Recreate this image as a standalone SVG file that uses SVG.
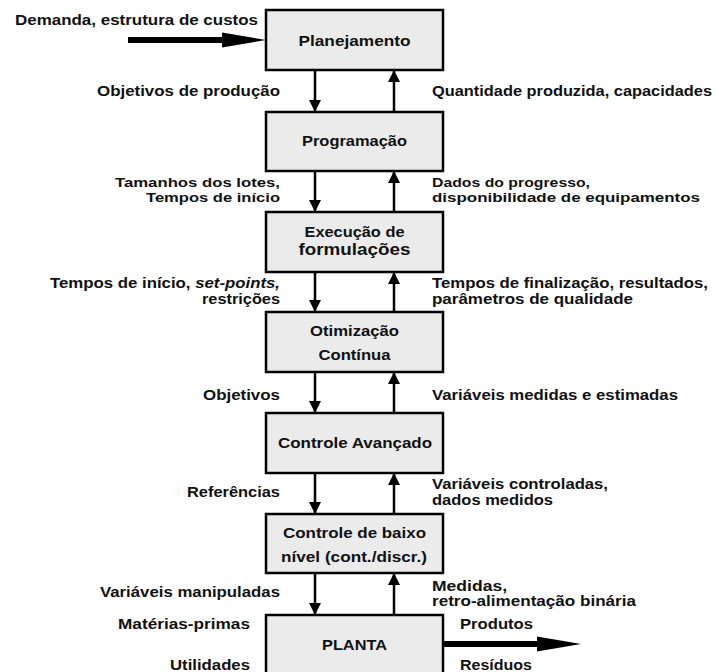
<svg xmlns="http://www.w3.org/2000/svg" width="723" height="672" viewBox="0 0 723 672">
  <style>
    text { font-family: "Liberation Sans", Arial, sans-serif; font-weight: bold; font-size: 15.5px; fill: #111; }
    .tight { font-size: 14px; }
    .tighter { font-size: 13.5px; }
    .box { fill: #ebebeb; stroke: #000; stroke-width: 2.5; }
    .title { text-anchor: middle; }
    .lft { text-anchor: end; }
    .rgt { text-anchor: start; }
    .link { stroke: #000; stroke-width: 2.5; fill: none; }
    .flow { stroke: #000; stroke-width: 6; fill: none; }
    .head { fill: #000; }
  </style>
  <defs>
    <marker id="tip" markerWidth="12" markerHeight="12" viewBox="0 0 12 12" refX="12" refY="6" orient="auto" markerUnits="userSpaceOnUse">
      <path d="M0,0 L12,6 L0,12 Z" class="head"/>
    </marker>
  </defs>

  <!-- hierarchy levels -->
  <g id="planejamento">
    <rect class="box" x="266" y="10" width="177" height="60"/>
    <text class="title" x="354.5" y="46" textLength="112" lengthAdjust="spacingAndGlyphs">Planejamento</text>
  </g>
  <g id="programacao">
    <rect class="box" x="266" y="112" width="177" height="59"/>
    <text class="title" x="354.5" y="146" textLength="105" lengthAdjust="spacingAndGlyphs">Programação</text>
  </g>
  <g id="execucao">
    <rect class="box" x="266" y="212" width="177" height="60"/>
    <text class="title" x="354.5" y="237" textLength="100" lengthAdjust="spacingAndGlyphs">Execução de</text>
    <text class="title" x="354.5" y="255" style="font-size:17px" textLength="112" lengthAdjust="spacingAndGlyphs">formulações</text>
  </g>
  <g id="otimizacao">
    <rect class="box" x="266" y="312" width="177" height="60"/>
    <text class="title" x="354.5" y="336" textLength="89" lengthAdjust="spacingAndGlyphs">Otimização</text>
    <text class="title" x="354.5" y="360" textLength="72" lengthAdjust="spacingAndGlyphs">Contínua</text>
  </g>
  <g id="controle-avancado">
    <rect class="box" x="266" y="413" width="177" height="60"/>
    <text class="title" x="355" y="448" textLength="154" lengthAdjust="spacingAndGlyphs">Controle Avançado</text>
  </g>
  <g id="controle-baixo-nivel">
    <rect class="box" x="266" y="514" width="177" height="59"/>
    <text class="title" x="354.5" y="538" textLength="143" lengthAdjust="spacingAndGlyphs">Controle de baixo</text>
    <text class="title" x="354" y="562" textLength="146" lengthAdjust="spacingAndGlyphs">nível (cont./discr.)</text>
  </g>
  <g id="planta">
    <rect class="box" x="266" y="615" width="177" height="70"/>
    <text class="title" x="354.5" y="650" textLength="65" lengthAdjust="spacingAndGlyphs">PLANTA</text>
  </g>

  <!-- connectors -->
  <g id="connectors">
    <!-- downward commands -->
    <line class="link" x1="315" y1="70" x2="315" y2="112" marker-end="url(#tip)"/>
    <line class="link" x1="315" y1="171" x2="315" y2="212" marker-end="url(#tip)"/>
    <line class="link" x1="315" y1="272" x2="315" y2="312" marker-end="url(#tip)"/>
    <line class="link" x1="315" y1="372" x2="315" y2="413" marker-end="url(#tip)"/>
    <line class="link" x1="315" y1="473" x2="315" y2="514" marker-end="url(#tip)"/>
    <line class="link" x1="315" y1="573" x2="315" y2="615" marker-end="url(#tip)"/>
    <!-- upward feedback -->
    <line class="link" x1="394" y1="112" x2="394" y2="70" marker-end="url(#tip)"/>
    <line class="link" x1="394" y1="212" x2="394" y2="171" marker-end="url(#tip)"/>
    <line class="link" x1="394" y1="312" x2="394" y2="272" marker-end="url(#tip)"/>
    <line class="link" x1="394" y1="413" x2="394" y2="372" marker-end="url(#tip)"/>
    <line class="link" x1="394" y1="514" x2="394" y2="473" marker-end="url(#tip)"/>
    <line class="link" x1="394" y1="615" x2="394" y2="573" marker-end="url(#tip)"/>
    <!-- heavy material / information flows -->
    <line class="flow" x1="128" y1="40" x2="224" y2="40"/>
    <path class="head" d="M222,32.5 L266,40 L222,47.5 Z"/>
    <line class="flow" x1="443" y1="644" x2="540" y2="644"/>
    <path class="head" d="M537,636.5 L581,644 L537,651.5 Z"/>
  </g>

  <!-- flow labels -->
  <g id="labels">
    <text x="15" y="25" textLength="243" lengthAdjust="spacingAndGlyphs">Demanda, estrutura de custos</text>
    <text class="lft" x="280" y="96" textLength="183" lengthAdjust="spacingAndGlyphs">Objetivos de produção</text>
    <text class="rgt" x="432" y="96" textLength="280" lengthAdjust="spacingAndGlyphs">Quantidade produzida, capacidades</text>

    <text class="lft tighter" x="280" y="187" textLength="165" lengthAdjust="spacingAndGlyphs">Tamanhos dos lotes,</text>
    <text class="lft tighter" x="280" y="202" textLength="134" lengthAdjust="spacingAndGlyphs">Tempos de início</text>
    <text class="rgt tighter" x="432" y="187" textLength="158" lengthAdjust="spacingAndGlyphs">Dados do progresso,</text>
    <text class="rgt tighter" x="432" y="202" textLength="268" lengthAdjust="spacingAndGlyphs">disponibilidade de equipamentos</text>

    <text class="lft" x="280" y="288" textLength="230" lengthAdjust="spacingAndGlyphs">Tempos de início, <tspan font-style="italic">set-points,</tspan></text>
    <text class="lft" x="280" y="304" textLength="78" lengthAdjust="spacingAndGlyphs">restrições</text>
    <text class="rgt" x="432" y="288" textLength="276" lengthAdjust="spacingAndGlyphs">Tempos de finalização, resultados,</text>
    <text class="rgt" x="432" y="304" textLength="201" lengthAdjust="spacingAndGlyphs">parâmetros de qualidade</text>

    <text class="lft" x="280" y="400" textLength="77" lengthAdjust="spacingAndGlyphs">Objetivos</text>
    <text class="rgt" x="432" y="400" textLength="246" lengthAdjust="spacingAndGlyphs">Variáveis medidas e estimadas</text>

    <text class="lft" x="280" y="497" textLength="93" lengthAdjust="spacingAndGlyphs">Referências</text>
    <text class="rgt" x="432" y="489" textLength="176" lengthAdjust="spacingAndGlyphs">Variáveis controladas,</text>
    <text class="rgt" x="432" y="505" textLength="121" lengthAdjust="spacingAndGlyphs">dados medidos</text>

    <text class="lft" x="280" y="597" textLength="180" lengthAdjust="spacingAndGlyphs">Variáveis manipuladas</text>
    <text class="rgt tight" x="432" y="591" textLength="75" lengthAdjust="spacingAndGlyphs">Medidas,</text>
    <text class="rgt tight" x="432" y="606" textLength="204" lengthAdjust="spacingAndGlyphs">retro-alimentação binária</text>

    <text class="lft" x="250" y="629" textLength="132" lengthAdjust="spacingAndGlyphs">Matérias-primas</text>
    <text class="lft" x="250" y="670" textLength="80" lengthAdjust="spacingAndGlyphs">Utilidades</text>
    <text class="rgt" x="460" y="629" textLength="73" lengthAdjust="spacingAndGlyphs">Produtos</text>
    <text class="rgt" x="460" y="670" textLength="72" lengthAdjust="spacingAndGlyphs">Resíduos</text>
  </g>
</svg>
